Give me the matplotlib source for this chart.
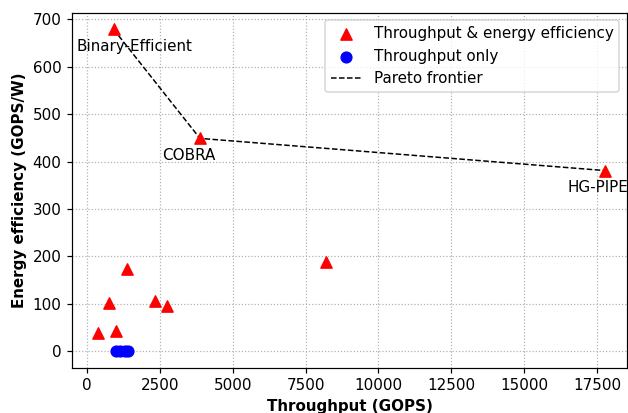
import numpy as np
import matplotlib.pyplot as plt

# Datos: aceleradores con throughput y eficiencia energetica
tp_both = [920, 3880, 17780, 8200, 380, 760, 1010, 1380, 2330, 2740]
ee_both = [679, 449, 381, 189, 38, 102, 43, 174, 107, 95]

# Solo throughput (eficiencia no reportada)
tp_only = [1000, 1150, 1300, 1420]
ee_only = [0, 0, 0, 0]

# Frontera de Pareto
pareto_names = ['Binary-Efficient', 'COBRA', 'HG-PIPE']
pareto_tp = [920, 3880, 17780]
pareto_ee = [679, 449, 381]

dpi = 108.5
fig = plt.figure(figsize=(628 / dpi, 413 / dpi), dpi=dpi)
ax = fig.add_axes([72 / 628, 1 - 367.7 / 413, 555 / 628, 355 / 413])

ax.scatter(tp_both, ee_both, marker='^', color='red', s=55,
           label='Throughput & energy efficiency', zorder=3)
ax.scatter(tp_only, ee_only, marker='o', color='blue', s=50,
           label='Throughput only', zorder=3)
ax.plot(pareto_tp, pareto_ee, 'k--', linewidth=1, label='Pareto frontier', zorder=2)

# Etiquetas de los puntos de la frontera
offsets = [(13.7, -11.7), (-7.3, -11.7), (-5.3, -11.3)]
for name, x, y, off in zip(pareto_names, pareto_tp, pareto_ee, offsets):
    ax.annotate(name, (x, y), xytext=off, textcoords='offset points',
                ha='center', va='center', fontsize=10)

ax.set_xlim(-504, 18517)
ax.set_ylim(-34.6, 714)
ax.set_xlabel('Throughput (GOPS)', fontweight='bold')
ax.set_ylabel('Energy efficiency (GOPS/W)', fontweight='bold')
ax.grid(True, linestyle=':', color='#b0b0b0', linewidth=0.8)
ax.legend(loc='upper right')

plt.savefig('out.png', dpi=dpi)
